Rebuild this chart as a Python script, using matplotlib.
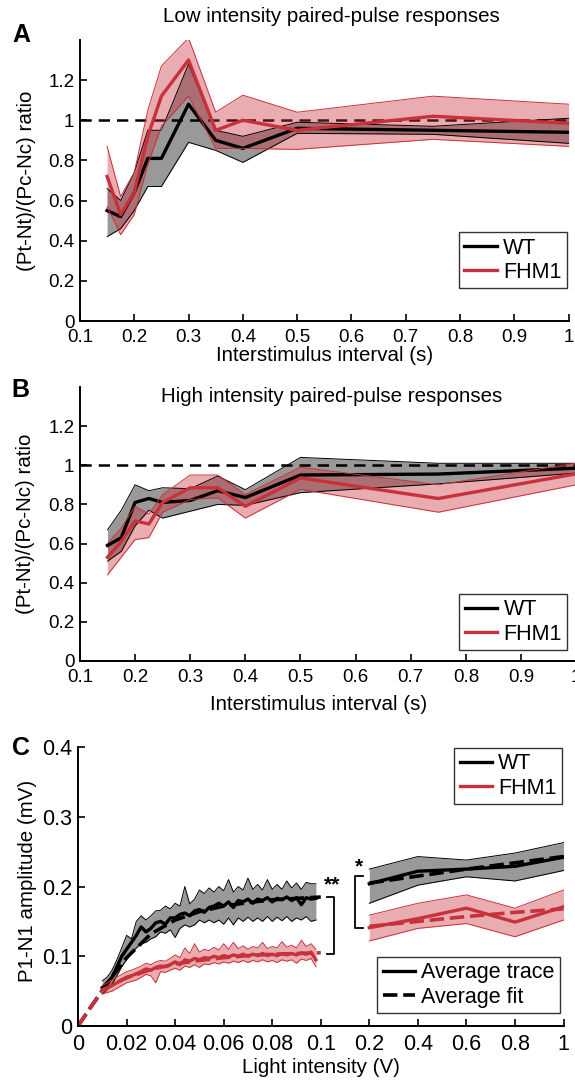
import numpy as np
import matplotlib
matplotlib.use("Agg")
import matplotlib.pyplot as plt
from matplotlib.lines import Line2D

plt.rcParams['font.family'] = ['Liberation Sans', 'DejaVu Sans']

# ---- panel A / B data (interstimulus interval, ratio) ----
isi = [0.15, 0.175, 0.2, 0.225, 0.25, 0.3, 0.35, 0.4, 0.5, 0.75, 1.0]

wt_low = [0.55, 0.52, 0.64, 0.81, 0.81, 1.08, 0.90, 0.86, 0.96, 0.95, 0.94]
wt_low_hi = [0.66, 0.60, 0.74, 0.95, 0.95, 1.28, 0.95, 0.92, 0.99, 0.97, 1.01]
wt_low_lo = [0.42, 0.46, 0.55, 0.67, 0.67, 0.89, 0.85, 0.79, 0.935, 0.93, 0.885]
fhm_low = [0.72, 0.53, 0.64, 0.92, 1.12, 1.30, 0.95, 1.00, 0.95, 1.02, 0.985]
fhm_low_hi = [0.87, 0.62, 0.74, 1.05, 1.27, 1.41, 1.04, 1.125, 1.04, 1.12, 1.08]
fhm_low_lo = [0.57, 0.43, 0.53, 0.78, 0.97, 1.12, 0.86, 0.86, 0.855, 0.905, 0.87]

wt_high = [0.59, 0.63, 0.81, 0.83, 0.81, 0.82, 0.87, 0.835, 0.95, 0.955, 0.985]
wt_high_hi = [0.67, 0.77, 0.90, 0.87, 0.885, 0.88, 0.945, 0.875, 1.04, 1.01, 1.01]
wt_high_lo = [0.51, 0.56, 0.69, 0.77, 0.73, 0.765, 0.80, 0.795, 0.86, 0.905, 0.96]
fhm_high = [0.53, 0.61, 0.715, 0.70, 0.81, 0.885, 0.885, 0.79, 0.935, 0.83, 0.956]
fhm_high_hi = [0.60, 0.68, 0.79, 0.75, 0.85, 0.95, 0.95, 0.85, 0.99, 0.90, 1.01]
fhm_high_lo = [0.44, 0.53, 0.62, 0.63, 0.76, 0.825, 0.834, 0.73, 0.877, 0.76, 0.90]

# ---- panel C data (light intensity, amplitude) ----
light = [0.010, 0.012, 0.014, 0.016, 0.018, 0.020, 0.022, 0.024, 0.026, 0.028,
         0.030, 0.032, 0.034, 0.036, 0.038, 0.040, 0.042, 0.044, 0.046, 0.048,
         0.050, 0.052, 0.054, 0.056, 0.058, 0.060, 0.062, 0.064, 0.066, 0.068,
         0.070, 0.072, 0.074, 0.076, 0.078, 0.080, 0.082, 0.084, 0.086, 0.088,
         0.090, 0.092, 0.094, 0.096, 0.098]
wt_tr = [0.055, 0.062, 0.070, 0.085, 0.100, 0.110, 0.120, 0.130, 0.142, 0.135,
         0.140, 0.148, 0.150, 0.146, 0.155, 0.155, 0.160, 0.162, 0.158, 0.165,
         0.167, 0.163, 0.170, 0.172, 0.176, 0.172, 0.178, 0.170, 0.180, 0.178,
         0.182, 0.176, 0.182, 0.180, 0.184, 0.178, 0.183, 0.181, 0.185, 0.180,
         0.184, 0.174, 0.184, 0.182, 0.183]
wt_tr_hi = [0.065, 0.070, 0.080, 0.095, 0.112, 0.130, 0.125, 0.150, 0.158, 0.152,
            0.158, 0.165, 0.166, 0.172, 0.168, 0.176, 0.172, 0.200, 0.175, 0.182,
            0.195, 0.190, 0.198, 0.192, 0.200, 0.194, 0.210, 0.192, 0.200, 0.195,
            0.212, 0.196, 0.203, 0.195, 0.210, 0.196, 0.203, 0.196, 0.208, 0.198,
            0.205, 0.196, 0.206, 0.204, 0.204]
wt_tr_lo = [0.046, 0.052, 0.060, 0.072, 0.085, 0.095, 0.104, 0.112, 0.118, 0.120,
            0.125, 0.128, 0.135, 0.133, 0.138, 0.127, 0.140, 0.145, 0.142, 0.145,
            0.152, 0.148, 0.152, 0.148, 0.152, 0.146, 0.155, 0.145, 0.155, 0.150,
            0.156, 0.150, 0.155, 0.150, 0.157, 0.150, 0.156, 0.151, 0.157, 0.150,
            0.155, 0.152, 0.157, 0.150, 0.152]
fhm_tr = [0.052, 0.055, 0.058, 0.062, 0.066, 0.070, 0.072, 0.075, 0.078, 0.082,
          0.080, 0.084, 0.086, 0.085, 0.088, 0.092, 0.088, 0.095, 0.093, 0.097,
          0.095, 0.098, 0.097, 0.100, 0.098, 0.101, 0.099, 0.102, 0.100, 0.103,
          0.100, 0.103, 0.101, 0.104, 0.101, 0.103, 0.101, 0.104, 0.102, 0.104,
          0.102, 0.105, 0.103, 0.106, 0.095]
fhm_tr_hi = [0.058, 0.062, 0.066, 0.070, 0.074, 0.078, 0.080, 0.083, 0.086, 0.090,
             0.088, 0.092, 0.094, 0.093, 0.097, 0.102, 0.098, 0.112, 0.104, 0.118,
             0.106, 0.110, 0.108, 0.113, 0.109, 0.118, 0.110, 0.120, 0.111, 0.115,
             0.110, 0.114, 0.112, 0.120, 0.111, 0.114, 0.112, 0.121, 0.113, 0.116,
             0.112, 0.123, 0.114, 0.118, 0.110]
fhm_tr_lo = [0.046, 0.048, 0.050, 0.054, 0.058, 0.062, 0.064, 0.066, 0.070, 0.074,
             0.072, 0.062, 0.078, 0.077, 0.080, 0.083, 0.080, 0.086, 0.084, 0.088,
             0.084, 0.089, 0.088, 0.091, 0.089, 0.092, 0.090, 0.093, 0.091, 0.094,
             0.091, 0.094, 0.092, 0.095, 0.092, 0.094, 0.091, 0.095, 0.093, 0.095,
             0.090, 0.096, 0.094, 0.097, 0.085]

fit_x = [0, 0.005, 0.01, 0.015, 0.02, 0.03, 0.04, 0.05, 0.06, 0.07, 0.08, 0.09, 0.1]
wt_fit = [0, 0.026, 0.051, 0.075, 0.098, 0.132, 0.152, 0.164, 0.172, 0.177, 0.181, 0.183, 0.185]
fhm_fit = [0, 0.026, 0.050, 0.061, 0.069, 0.081, 0.089, 0.094, 0.098, 0.101, 0.103, 0.104, 0.105]

light_hi = [0.2, 0.4, 0.6, 0.8, 1.0]
wt_r = [0.204, 0.222, 0.225, 0.229, 0.242]
wt_r_hi = [0.225, 0.243, 0.238, 0.248, 0.263]
wt_r_lo = [0.176, 0.202, 0.214, 0.208, 0.223]
wt_r_fit = [0.205, 0.215, 0.225, 0.234, 0.243]
fhm_r = [0.141, 0.154, 0.169, 0.149, 0.171]
fhm_r_hi = [0.159, 0.176, 0.188, 0.169, 0.195]
fhm_r_lo = [0.122, 0.140, 0.147, 0.128, 0.152]
fhm_r_fit = [0.143, 0.150, 0.157, 0.163, 0.168]

RED = '#c8313a'
TICK_AB = 13.5
LAB = 14.8
LEG = 15.5


def band(ax, x, mid, lo, hi, color, fillc, alpha, label=None):
    ax.fill_between(x, lo, hi, color=fillc, alpha=alpha, lw=0)
    ax.plot(x, lo, color=color, lw=0.7)
    ax.plot(x, hi, color=color, lw=0.7)
    ax.plot(x, mid, color=color, lw=2.4, label=label)


def style(ax, tsize):
    for s in ['top', 'right']:
        ax.spines[s].set_visible(False)
    for s in ['left', 'bottom']:
        ax.spines[s].set_linewidth(1.4)
    ax.tick_params(direction='in', length=5, width=1.2, labelsize=tsize, pad=4)
    ax.tick_params(axis='x', pad=6)


def legend(ax, handles, labels, loc, anchor):
    lg = ax.legend(handles, labels, loc=loc, bbox_to_anchor=anchor, borderaxespad=0,
                   fontsize=LEG, fancybox=False, handlelength=1.5, handletextpad=0.3,
                   labelspacing=0.15, borderpad=0.25)
    lg.get_frame().set_edgecolor('k')
    lg.get_frame().set_linewidth(1.0)
    return lg


def pp_panel(ax, wt, wlo, whi, fm, flo, fhi, title, tx, ty, lg_anchor):
    ax.axhline(1, color='k', lw=1.8, dashes=(4.5, 2.8), zorder=0.5)
    band(ax, isi, wt, wlo, whi, 'k', 'k', 0.4, 'WT')
    band(ax, isi, fm, flo, fhi, RED, RED, 0.4, 'FHM1')
    ax.set_xlim(0.1, 1.0)
    ax.set_ylim(0, 1.4)
    ax.set_xticks([0.1, 0.2, 0.3, 0.4, 0.5, 0.6, 0.7, 0.8, 0.9, 1.0])
    ax.set_xticklabels(['0.1', '0.2', '0.3', '0.4', '0.5', '0.6', '0.7', '0.8', '0.9', '1'])
    ax.set_yticks([0, 0.2, 0.4, 0.6, 0.8, 1.0, 1.2])
    ax.set_yticklabels(['0', '0.2', '0.4', '0.6', '0.8', '1', '1.2'])
    style(ax, TICK_AB)
    ax.set_ylabel('(Pt-Nt)/(Pc-Nc) ratio', fontsize=LAB)
    ax.yaxis.set_label_coords(-0.09, 0.5)
    ax.set_xlabel('Interstimulus interval (s)', fontsize=LAB)
    ax.text(tx, ty, title, transform=ax.transAxes, ha='center', va='center', fontsize=LAB)
    h, l = ax.get_legend_handles_labels()
    legend(ax, h, l, 'lower right', lg_anchor)


fig = plt.figure(figsize=(5.75, 10.83), dpi=100)

# A
axA = fig.add_axes([0.139, 0.7036, 0.850, 0.2595])
pp_panel(axA, wt_low, wt_low_lo, wt_low_hi, fhm_low, fhm_low_lo, fhm_low_hi,
         'Low intensity paired-pulse responses', 0.514, 1.085, (0.996, 0.117))
axA.xaxis.set_label_coords(0.5, -0.09)

# B
axB = fig.add_axes([0.139, 0.3897, 0.863, 0.253])
pp_panel(axB, wt_high, wt_high_lo, wt_high_hi, fhm_high, fhm_high_lo, fhm_high_hi,
         'High intensity paired-pulse responses', 0.507, 0.965, (0.982, 0.04))
axB.xaxis.set_label_coords(0.48, -0.125)

# C: x scale stretched on 0-0.1, compressed on 0.2-1
brk_x = [0, 0.1, 0.2, 1.0]
brk_p = [0, 5, 6, 10]


def fwd(v):
    return np.interp(v, brk_x, brk_p)


def inv(p):
    return np.interp(p, brk_p, brk_x)


axC = fig.add_axes([0.1357, 0.0526, 0.8443, 0.2576])
axC.set_xscale('function', functions=(fwd, inv))
band(axC, light, wt_tr, wt_tr_lo, wt_tr_hi, 'k', 'k', 0.4)
band(axC, light_hi, wt_r, wt_r_lo, wt_r_hi, 'k', 'k', 0.4)
axC.plot(fit_x, wt_fit, color='k', lw=2.6, dashes=(4, 1.6))
axC.plot(light_hi, wt_r_fit, color='k', lw=2.6, dashes=(4, 1.6))
band(axC, light, fhm_tr, fhm_tr_lo, fhm_tr_hi, RED, RED, 0.4)
band(axC, light_hi, fhm_r, fhm_r_lo, fhm_r_hi, RED, RED, 0.4)
axC.plot(fit_x, fhm_fit, color=RED, lw=2.6, dashes=(4, 1.6))
axC.plot(light_hi, fhm_r_fit, color=RED, lw=2.6, dashes=(4, 1.6))

axC.set_xlim(0, 1.0)
axC.set_ylim(0, 0.4)
cticks = [0, 0.02, 0.04, 0.06, 0.08, 0.1, 0.2, 0.4, 0.6, 0.8, 1.0]
axC.set_xticks(cticks)
axC.set_xticklabels(['0', '0.02', '0.04', '0.06', '0.08', '0.1', '0.2', '0.4', '0.6', '0.8', '1'])
axC.xaxis.set_minor_locator(matplotlib.ticker.NullLocator())
axC.set_yticks([0, 0.1, 0.2, 0.3, 0.4])
axC.set_yticklabels(['0', '0.1', '0.2', '0.3', '0.4'])
style(axC, 15.5)
axC.set_ylabel('P1-N1 amplitude (mV)', fontsize=LAB)
axC.yaxis.set_label_coords(-0.085, 0.52)
axC.set_xlabel('Light intensity (V)', fontsize=LAB)
axC.xaxis.set_label_coords(0.5, -0.115)

# significance brackets
axC.plot([0.112, 0.127, 0.127, 0.112], [0.185, 0.185, 0.103, 0.103], color='k', lw=1.3)
axC.text(0.123, 0.203, '**', ha='center', va='center', fontsize=15, fontweight='bold')
axC.plot([0.186, 0.170, 0.170, 0.186], [0.215, 0.215, 0.140, 0.140], color='k', lw=1.3)
axC.text(0.179, 0.228, '*', ha='center', va='center', fontsize=15, fontweight='bold')

lg1 = legend(axC, [Line2D([], [], color='k', lw=2.4), Line2D([], [], color=RED, lw=2.4)],
             ['WT', 'FHM1'], 'upper right', (0.997, 0.997))
axC.add_artist(lg1)
legend(axC, [Line2D([], [], color='k', lw=2.4), Line2D([], [], color='k', lw=2.6, dashes=(4, 1.6))],
       ['Average trace', 'Average fit'], 'lower right', (0.993, 0.047))

# panel letters
fig.text(0.038, 0.968, 'A', fontsize=18, fontweight='bold', ha='center', va='center')
fig.text(0.036, 0.640, 'B', fontsize=18, fontweight='bold', ha='center', va='center')
fig.text(0.036, 0.309, 'C', fontsize=18, fontweight='bold', ha='center', va='center')

fig.savefig('out.png', dpi=100)
